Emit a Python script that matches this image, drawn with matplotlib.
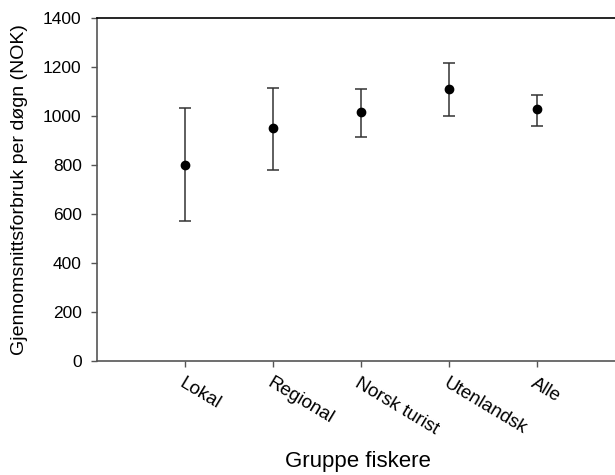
import numpy as np
import matplotlib.pyplot as plt

groups = ["Lokal", "Regional", "Norsk turist", "Utenlandsk", "Alle"]
means = [800, 950, 1015, 1112, 1027]
upper = [1032, 1114, 1110, 1216, 1086]
lower = [571, 780, 914, 1002, 959]

plt.rcParams['font.family'] = ['Liberation Sans', 'DejaVu Sans']

x = np.arange(1, len(groups) + 1)
yerr = [np.array(means) - np.array(lower), np.array(upper) - np.array(means)]

fig = plt.figure(figsize=(6.15, 4.75), dpi=100)
ax = fig.add_axes([97 / 615, 1 - 361 / 475, 1 - 97 / 615 + 0.01, 343 / 475])

ax.errorbar(x, means, yerr=yerr, fmt='o', color='black', ms=6,
            ecolor='#333333', elinewidth=1.1, capsize=4, capthick=1.1)

ax.set_xlim(0, 5.96)
ax.set_ylim(0, 1400)
ax.set_yticks(np.arange(0, 1401, 200))
ax.set_xticks(x)
ax.set_xticklabels(groups, rotation=-31, ha='left', va='top', rotation_mode='anchor', fontsize=13.5)
ax.tick_params(axis='y', labelsize=12.5, length=4, width=1, color='#555555', pad=7)
ax.tick_params(axis='x', length=4, width=1, color='#555555', pad=6)

for s in ['left', 'bottom']:
    ax.spines[s].set_color('#555555')
    ax.spines[s].set_linewidth(1.2)
ax.spines['top'].set_color('black')
ax.spines['top'].set_linewidth(1.2)
ax.spines['right'].set_visible(False)

ax.set_ylabel('Gjennomsnittsforbruk per døgn (NOK)', fontsize=14, labelpad=11)
fig.text(358 / 615, 1 - 462 / 475, 'Gruppe fiskere', ha='center', va='center', fontsize=16)

fig.savefig('out.png', dpi=100)
